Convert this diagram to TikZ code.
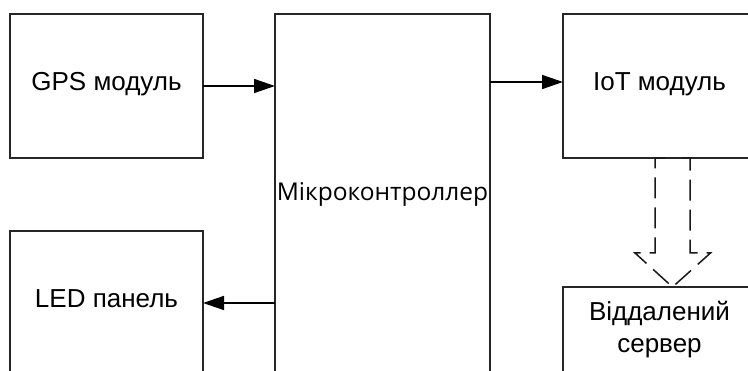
\documentclass[tikz,border=0pt]{standalone}
\usepackage{fontspec}
\setmainfont{Liberation Sans}
\newfontfamily\mcfont{Open Sans}
\usetikzlibrary{arrows.meta,calc}
\begin{document}
\begin{tikzpicture}[x=1pt,y=-1pt,
  box/.style={draw=black!85,line width=1.5pt,rectangle,inner sep=0pt,outer sep=0pt,align=center,font=\fontsize{26}{32}\selectfont},
  oneline/.style={text height=18pt,text depth=9pt},
  arr/.style={line width=1.5pt,-{Triangle[length=21pt,width=14pt]}},
  blockarr/.style={draw=black!90,line width=1.5pt,dash pattern=on 21pt off 9pt,dash phase=23pt}]
\useasboundingbox (0,0) rectangle (748,371);
\clip (0,0) rectangle (748,371);
\node[box,oneline,minimum width=193pt,minimum height=144pt] (gps) at (106.5,86) {GPS модуль};
\node[box,oneline,minimum width=193pt,minimum height=144pt] (led) at (106.5,303) {LED панель};
\node[box,minimum width=215pt,minimum height=361pt,font=\mcfont\fontsize{24.5}{30}\selectfont] (mc) at (382.5,194.5) {Мікроконтроллер};
\node[box,oneline,minimum width=193pt,minimum height=144pt] (iot) at (659.5,86) {IoT модуль};
\node[box,minimum width=193pt,minimum height=86pt] (srv) at (659.5,330) {Віддалений\\сервер};
\draw[arr] (gps.east) -- (gps.east -| mc.west);
\draw[arr] (mc.east |- 0,82) -- (iot.west |- 0,82);
\draw[arr] (mc.west |- led.east) -- (led.east);
\coordinate (bt) at (iot.south -| 672.5,0);
\coordinate (bh) at (srv.north -| 672.5,0);
\draw[blockarr] (bt) -- ++(-17.5,0) |- ($(bh)+(-37.5,-34)$) -- (bh) -- ++(38,-34) -| ($(bt)+(17.5,0)$) -- cycle;
\end{tikzpicture}
\end{document}
